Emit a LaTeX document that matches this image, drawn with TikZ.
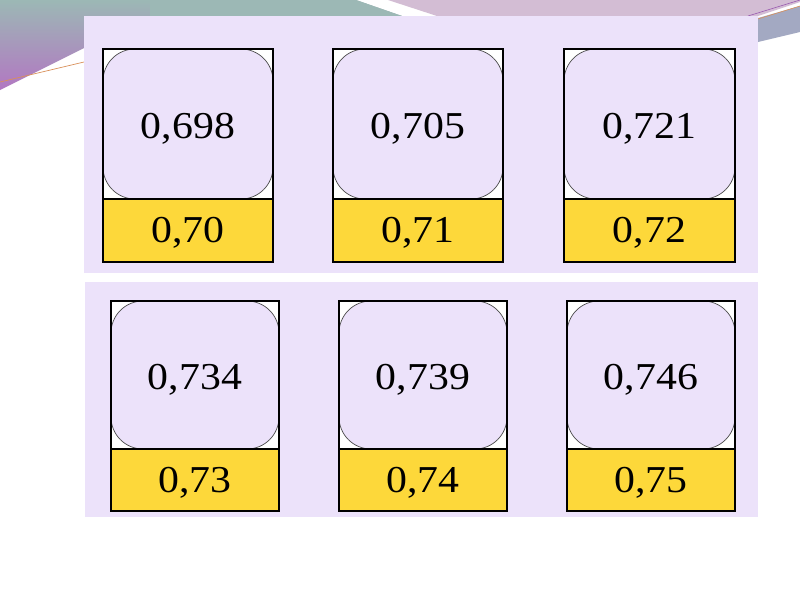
\documentclass[tikz,border=0pt]{standalone}
\usepackage{fontspec}
\setmainfont{Liberation Serif}
\newfontfamily\numfont[FakeStretch=1.1]{Liberation Serif}
\definecolor{panel}{HTML}{ECE2FA}
\definecolor{cardyellow}{HTML}{FDD83A}
\definecolor{teal}{HTML}{9CB8B5}
\definecolor{purp}{HTML}{B277C2}
\definecolor{pinkp}{HTML}{D3BDD4}
\definecolor{bandblue}{HTML}{A3A9C2}
\definecolor{lineorange}{HTML}{D9905A}
\definecolor{linepurple}{HTML}{9A5AB0}
\tikzset{
  panelbox/.style={fill=panel, draw=none},
  outerbox/.style={draw=black, line width=1.1pt},
  roundbox/.style={fill=panel, draw=black!70, line width=0.7pt, rounded corners=32pt},
  valtext/.style={font=\numfont\fontsize{38}{44}\selectfont, text=black, inner sep=0pt, anchor=base},
  ansbox/.style={fill=cardyellow, draw=black, line width=1.1pt},
}
\newcommand{\mycard}[8]{%
  % #1 name, #2 left, #3 right, #4 top, #5 sep, #6 bottom, #7 value, #8 rounded
  \fill[white] (#2,#4) rectangle (#3,#5);
  \draw[roundbox] (#2,#4) rectangle (#3,#5);
  \draw[ansbox] (#2,#5) rectangle (#3,#6);
  \node[outerbox, minimum width={(#3-#2)*1pt}, minimum height={(#6-#4)*1pt}, inner sep=0pt] (#1) at ({(#2+#3)/2},{(#4+#6)/2}) {};
  \node[valtext] (#1v) at ({(#2+#3)/2},{(#4+#5)/2+14}) {#7};
  \node[valtext] (#1a) at ({(#2+#3)/2},{(#5+#6)/2+12}) {#8};
}
\begin{document}
\begin{tikzpicture}[x=1pt, y=-1pt]
\useasboundingbox (0,0) rectangle (800,600);
\fill[white] (0,0) rectangle (800,600);
% background decoration
\shade[top color=teal, bottom color=purp, shading angle=0] (0,0) -- (356,0) -- (402,16) -- (84,16) -- (84,48) -- (0,90) -- cycle;
\fill[teal] (150,0) -- (356,0) -- (402,16) -- (150,16) -- cycle;
\fill[pinkp] (388,0) -- (800,0) -- (800,2) -- (758,16) -- (437,16) -- cycle;
\fill[bandblue] (758,18) -- (800,6) -- (800,32) -- (758,42) -- cycle;
\draw[linepurple, line width=0.6pt] (748,16) -- (800,0);
\draw[lineorange, line width=0.6pt] (758,19) -- (800,6);
\draw[lineorange, line width=0.7pt] (0,82) -- (84,62);
% panels
\fill[panelbox] (84,16) rectangle (758,273);
\fill[panelbox] (85,282) rectangle (758,517);
% cards
\mycard{c1}{103}{273}{49}{199}{262}{0,698}{0,70}
\mycard{c2}{333}{503}{49}{199}{262}{0,705}{0,71}
\mycard{c3}{564}{735}{49}{199}{262}{0,721}{0,72}
\mycard{c4}{111}{279}{301}{449}{511}{0,734}{0,73}
\mycard{c5}{339}{507}{301}{449}{511}{0,739}{0,74}
\mycard{c6}{567}{735}{301}{449}{511}{0,746}{0,75}
\end{tikzpicture}
\end{document}
